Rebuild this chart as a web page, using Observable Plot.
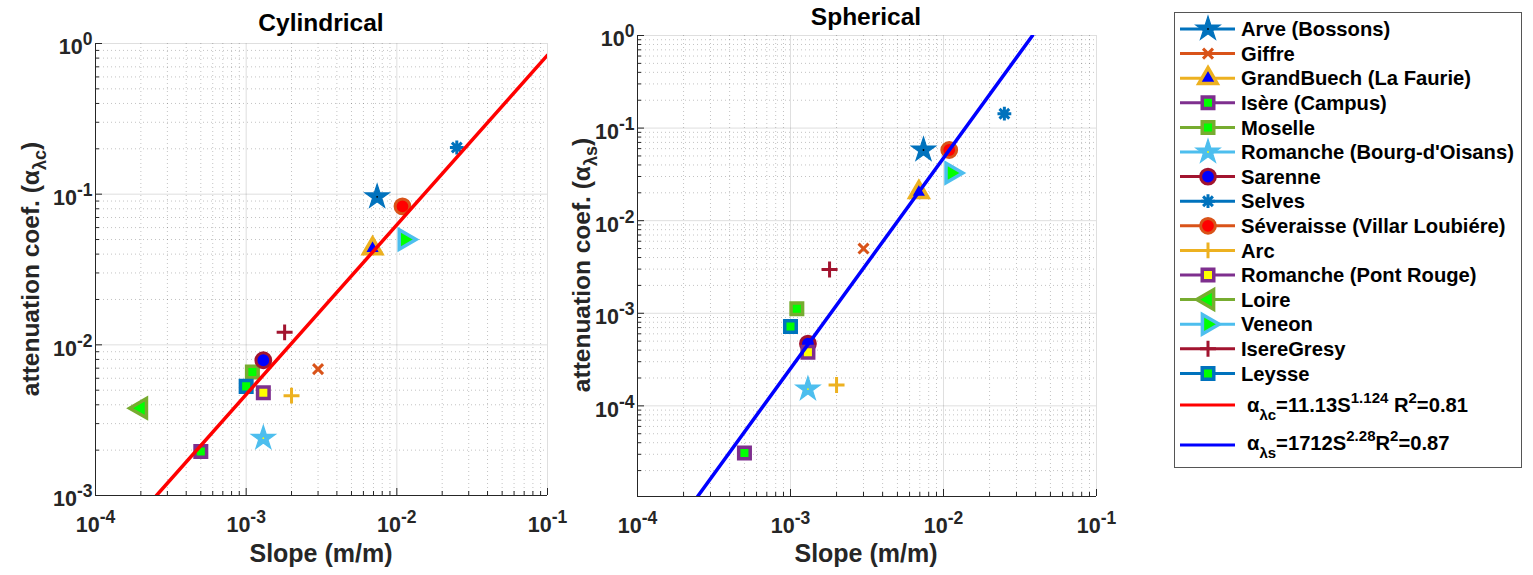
<!DOCTYPE html>
<html><head><meta charset="utf-8">
<script src="https://cdn.jsdelivr.net/npm/d3@7"></script>
<script src="https://cdn.jsdelivr.net/npm/@observablehq/plot@0.6"></script>
<style>
html,body{margin:0;padding:0;background:#fff;}
#wrap{position:relative;width:1533px;height:575px;overflow:hidden;font-family:"Liberation Sans",Arial,sans-serif;}
#wrap > svg{position:absolute;left:0;top:0;}
</style></head><body><div id="wrap"></div>
<script>
// ---------- data ----------
const rivers = ["Arve (Bossons)", "Giffre", "GrandBuech (La Faurie)", "Isère (Campus)", "Moselle",
  "Romanche (Bourg-d'Oisans)", "Sarenne", "Selves", "Séveraisse (Villar Loubiére)", "Arc",
  "Romanche (Pont Rouge)", "Loire", "Veneon", "IsereGresy", "Leysse"];
const slope    = [0.0074, 0.003, 0.0069, 0.0005, 0.0011, 0.0013, 0.0013, 0.025, 0.0109, 0.002, 0.0013, 0.0002, 0.0113, 0.0018, 0.001];
const alphaCyl = [0.096, 0.0069, 0.0436, 0.00196, 0.0066, 0.0024, 0.0079, 0.204, 0.083, 0.0046, 0.0048, 0.0038, 0.050, 0.0121, 0.0053];
const alphaSph = [0.058, 0.0050, 0.0203, 0.000031, 0.00112, 0.000152, 0.00047, 0.143, 0.058, 0.000168, 0.00038, null, 0.0327, 0.00297, 0.00072];
// fitted power laws, end points
const fitCylSlope = [0.000254, 0.1];
const fitCylAlpha = [0.001, 0.837];
const fitSphSlope = [0.000247, 0.0382];
const fitSphAlpha = [0.0000105, 1];
const xTickValues = [1e-4, 1e-3, 1e-2, 1e-1];
const yTicksCyl = [1e-3, 1e-2, 1e-1, 1];
const yTicksSph = [1e-4, 1e-3, 1e-2, 1e-1, 1];
const titles = ["Cylindrical", "Spherical"];
const fitLabels = [["α", "λc", "=11.13S", "1.124", " R", "2", "=0.81"], ["α", "λs", "=1712S", "2.28", "R", "2", "=0.87"]];

// ---------- styles ----------
const triRight = {draw(c, size){const h=Math.sqrt(size/(3*Math.sqrt(3))); c.moveTo(2*h,0); c.lineTo(-h,Math.sqrt(3)*h); c.lineTo(-h,-Math.sqrt(3)*h); c.closePath();}};
const triLeft = {draw(c, size){const h=Math.sqrt(size/(3*Math.sqrt(3))); c.moveTo(-2*h,0); c.lineTo(h,Math.sqrt(3)*h); c.lineTo(h,-Math.sqrt(3)*h); c.closePath();}};
const aster8 = {draw(c, size){const L=Math.sqrt(size/Math.PI)*1.5, d=L*0.7071; c.moveTo(-L,0); c.lineTo(L,0); c.moveTo(0,-L); c.lineTo(0,L); c.moveTo(-d,-d); c.lineTo(d,d); c.moveTo(-d,d); c.lineTo(d,-d);}};
const C = {blue:"#0072BD", orange:"#D95319", yellow:"#EDB120", purple:"#7E2F8E", green:"#77AC30", cyan:"#4DBEEE", dred:"#A2142F"};
const styleOf = {
  "Arve (Bossons)": {symbol:d3.symbolStar, r:7.6, stroke:C.blue, fill:C.blue, sw:1.2, center:"#000"},
  "Giffre": {symbol:d3.symbolTimes, r:4.6, stroke:C.orange, fill:"none", sw:3},
  "GrandBuech (La Faurie)": {symbol:d3.symbolTriangle, r:6.8, stroke:C.yellow, fill:"#0000FF", sw:3.5},
  "Isère (Campus)": {symbol:d3.symbolSquare, r:6.5, stroke:C.purple, fill:"#00FF00", sw:3.5},
  "Moselle": {symbol:d3.symbolSquare, r:6.5, stroke:C.green, fill:"#00FF00", sw:3.5},
  "Romanche (Bourg-d'Oisans)": {symbol:d3.symbolStar, r:7.6, stroke:C.cyan, fill:C.cyan, sw:1.2, center:"#FFFF00"},
  "Sarenne": {symbol:d3.symbolCircle, r:7.4, stroke:C.dred, fill:"#0000FF", sw:3},
  "Selves": {symbol:aster8, r:4.6, stroke:C.blue, fill:"none", sw:3},
  "Séveraisse (Villar Loubiére)": {symbol:d3.symbolCircle, r:7.4, stroke:C.orange, fill:"#FF0000", sw:3},
  "Arc": {symbol:d3.symbolPlus, r:5.2, stroke:C.yellow, fill:"none", sw:3},
  "Romanche (Pont Rouge)": {symbol:d3.symbolSquare, r:6.5, stroke:C.purple, fill:"#FFFF00", sw:3.5},
  "Loire": {symbol:triLeft, r:7.2, stroke:C.green, fill:"#00FF00", sw:3.5},
  "Veneon": {symbol:triRight, r:7.2, stroke:C.cyan, fill:"#00FF00", sw:3.5},
  "IsereGresy": {symbol:d3.symbolPlus, r:5.2, stroke:C.dred, fill:"none", sw:3},
  "Leysse": {symbol:d3.symbolSquare, r:6.5, stroke:C.blue, fill:"#00FF00", sw:3.5}
};
const AX = "#262626";
const W = 1533, H = 575;
const wrap = document.getElementById("wrap");
const NS = "http://www.w3.org/2000/svg";

function minorTicks(domain){
  const out=[];
  for(let e=Math.floor(Math.log10(domain[0])); e<Math.ceil(Math.log10(domain[1])); e++)
    for(let k=2;k<=9;k++){const v=k*Math.pow(10,e); if(v>=domain[0]*0.999 && v<=domain[1]*1.001) out.push(v);}
  return out;
}

function panel({alpha, yDomain, yTicks, fitS, fitA, fitColor, left, right, top, bottom}){
  const xDomain=[1e-4,1e-1];
  const data = rivers.map((name,i)=>({name, s:slope[i], a:alpha[i]})).filter(d=>d.a!=null);
  const fit = fitS.map((s,i)=>({s, a:fitA[i]}));
  const innerW = right-left, innerH = bottom-top;
  const xMin = minorTicks(xDomain), yMin = minorTicks(yDomain);
  const fmt = d => "10^" + Math.round(Math.log10(d));
  const marks = [
    Plot.gridX(xMin, {stroke:AX, strokeOpacity:0.28, strokeDasharray:"1,3"}),
    Plot.gridY(yMin, {stroke:AX, strokeOpacity:0.28, strokeDasharray:"1,3"}),
    Plot.gridX(xTickValues, {stroke:AX, strokeOpacity:0.15}),
    Plot.gridY(yTicks, {stroke:AX, strokeOpacity:0.15}),
    Plot.ruleX(xMin, {stroke:AX, insetTop:innerH-4}),
    Plot.ruleX(xTickValues, {stroke:AX, insetTop:innerH-7}),
    Plot.ruleY(yMin, {stroke:AX, insetRight:innerW-4}),
    Plot.ruleY(yTicks, {stroke:AX, insetRight:innerW-7}),
    Plot.ruleX([xDomain[0]], {stroke:AX}),
    Plot.ruleY([yDomain[0]], {stroke:AX}),
    Plot.axisX(xTickValues, {tickSize:0, tickPadding:21, tickFormat:fmt, label:null}),
    Plot.axisY(yTicks, {tickSize:0, tickPadding:3, tickFormat:fmt, label:null})
  ];
  for(const name of rivers){
    const st = styleOf[name];
    const sub = data.filter(d=>d.name===name);
    marks.push(Plot.dot(sub, {x:"s", y:"a", symbol:st.symbol, r:st.r, stroke:st.stroke, fill:st.fill, strokeWidth:st.sw}));
    if(st.center) marks.push(Plot.dot(sub, {x:"s", y:"a", r:0.9, fill:st.center, stroke:"none"}));
  }
  marks.push(Plot.line(fit, {x:"s", y:"a", stroke:fitColor, strokeWidth:3.5, clip:true}));
  const svg = Plot.plot({
    width:W, height:H, marginLeft:left, marginRight:W-right, marginTop:top, marginBottom:H-bottom,
    x:{type:"log", domain:xDomain}, y:{type:"log", domain:yDomain},
    style:{background:"transparent", fontFamily:"'Liberation Sans', Arial, sans-serif", fontSize:"21px", fontWeight:"bold", color:AX, overflow:"visible"},
    marks
  });
  // superscript exponents in tick labels
  svg.querySelectorAll('g[aria-label="x-axis tick label"] text, g[aria-label="y-axis tick label"] text').forEach(t=>{
    const isY = t.parentNode.getAttribute("aria-label").startsWith("y");
    const [b,e] = t.textContent.split("^");
    t.textContent = "";
    t.setAttribute("font-size","21.5"); t.setAttribute("font-weight","bold");
    const tb = document.createElementNS(NS,"tspan"); tb.textContent=b; if(isY) tb.setAttribute("dy","4"); t.appendChild(tb);
    const te = document.createElementNS(NS,"tspan"); te.textContent=e; te.setAttribute("dy","-9"); te.setAttribute("font-size","17.5"); t.appendChild(te);
  });
  wrap.appendChild(svg);
}

panel({alpha:alphaCyl, yDomain:[1e-3,1], yTicks:yTicksCyl, fitS:fitCylSlope, fitA:fitCylAlpha, fitColor:"#FF0000", left:95, right:547, top:43, bottom:495});
panel({alpha:alphaSph, yDomain:[1.05e-5,1], yTicks:yTicksSph, fitS:fitSphSlope, fitA:fitSphAlpha, fitColor:"#0000FF", left:637, right:1096, top:35, bottom:496});

// ---------- overlay: titles, axis labels, legend ----------
const ov = d3.select(wrap).append("svg").attr("width",W).attr("height",H)
  .style("font-family","'Liberation Sans', Arial, sans-serif").style("font-weight","bold");
ov.append("text").attr("x",321).attr("y",31).attr("text-anchor","middle").attr("font-size",24.5).attr("fill","#000").text(titles[0]);
ov.append("text").attr("x",866).attr("y",25).attr("text-anchor","middle").attr("font-size",24.5).attr("fill","#000").text(titles[1]);
for(const cx of [321,866]) ov.append("text").attr("x",cx).attr("y",562).attr("text-anchor","middle").attr("font-size",25).attr("fill",AX).text("Slope (m/m)");
function ylab(x,y,sub){
  const t = ov.append("text").attr("transform",`translate(${x},${y}) rotate(-90)`).attr("text-anchor","middle").attr("font-size",24.5).attr("fill",AX);
  t.append("tspan").text("attenuation coef. (α");
  t.append("tspan").attr("dy",7).attr("font-size",18).text(sub);
  t.append("tspan").attr("dy",-7).text(")");
}
ylab(39,269,"λc");
ylab(590,265,"λs");

// legend
const lg = ov.append("g");
lg.append("rect").attr("x",1174.5).attr("y",12.5).attr("width",347).attr("height",455).attr("fill","#fff").attr("stroke","#555").attr("stroke-width",1);
rivers.forEach((name,i)=>{
  const st = styleOf[name], y = 29 + i*24.6;
  lg.append("line").attr("x1",1180).attr("x2",1235).attr("y1",y).attr("y2",y).attr("stroke",st.stroke).attr("stroke-width",3);
  lg.append("path").attr("transform",`translate(1208,${y})`).attr("d",d3.symbol(st.symbol, st.r*st.r*Math.PI)())
    .attr("fill",st.fill).attr("stroke",st.stroke).attr("stroke-width",st.sw);
  if(st.center) lg.append("circle").attr("cx",1208).attr("cy",y).attr("r",0.9).attr("fill",st.center);
  lg.append("text").attr("x",1241).attr("y",y+7.2).attr("font-size",20.2).attr("fill","#000").text(name);
});
[["#FF0000",405,412],["#0000FF",445,450]].forEach(([col,ly,by],k)=>{
  lg.append("line").attr("x1",1180).attr("x2",1235).attr("y1",ly).attr("y2",ly).attr("stroke",col).attr("stroke-width",3);
  const p = fitLabels[k];
  const t = lg.append("text").attr("x",1247).attr("y",by).attr("font-size",20.2).attr("fill","#000");
  t.append("tspan").text(p[0]);
  t.append("tspan").attr("dy",8).attr("font-size",15).text(p[1]);
  t.append("tspan").attr("dy",-8).text(p[2]);
  t.append("tspan").attr("dy",-9).attr("font-size",15).text(p[3]);
  t.append("tspan").attr("dy",9).text(p[4]);
  t.append("tspan").attr("dy",-9).attr("font-size",15).text(p[5]);
  t.append("tspan").attr("dy",9).text(p[6]);
});
</script></body></html>
